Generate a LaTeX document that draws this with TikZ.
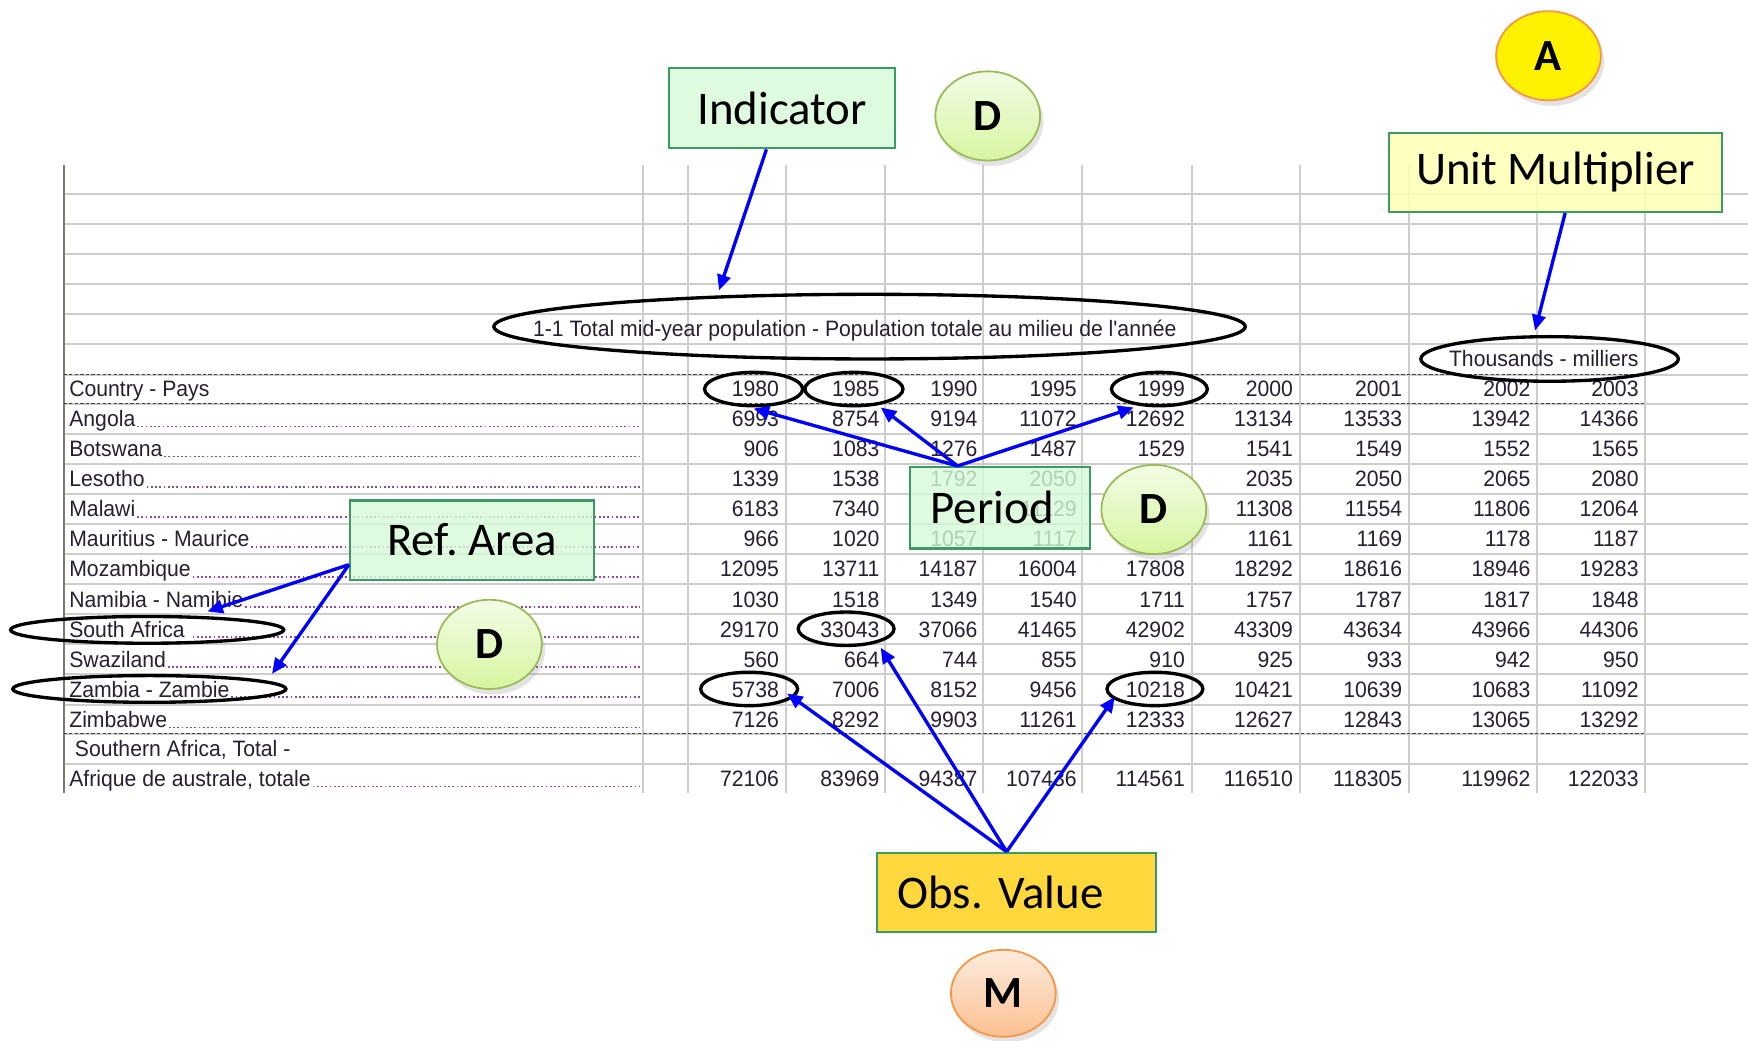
\documentclass[tikz,border=0pt]{standalone}
\usepackage{fontspec}
\setmainfont{Carlito}
\newfontfamily\sheetfont[FakeStretch=0.95]{Liberation Sans}
\usetikzlibrary{shapes.geometric,arrows.meta,shadows,calc}

\definecolor{gridgray}{RGB}{205,205,205}
\definecolor{edgegray}{RGB}{125,122,110}
\definecolor{cellink}{RGB}{38,32,50}
\definecolor{leaderc}{RGB}{150,70,165}
\definecolor{boxgreen}{RGB}{216,250,216}
\definecolor{boxedge}{RGB}{60,155,100}
\definecolor{unitfill}{RGB}{255,255,180}
\definecolor{obsfill}{RGB}{255,216,62}
\definecolor{arrowblue}{RGB}{0,0,255}
\definecolor{dtop}{RGB}{243,252,230}
\definecolor{dbot}{RGB}{214,245,160}
\definecolor{dedge}{RGB}{155,187,89}
\definecolor{aedge}{RGB}{247,150,70}
\definecolor{mtop}{RGB}{253,236,222}
\definecolor{mbot}{RGB}{251,192,145}

\tikzset{
  gridline/.style={draw=gridgray, line width=1.8pt},
  edgeline/.style={draw=edgegray, line width=1.8pt},
  dashrule/.style={draw=black!75, line width=1.2pt, dash pattern=on 3pt off 2pt},
  cell/.style={anchor=base east, inner sep=0pt, text=cellink,
    font=\sheetfont\fontsize{20}{22}\selectfont},
  rowname/.style={anchor=base west, inner sep=0pt, text=cellink,
    font=\sheetfont\fontsize{20}{22}\selectfont},
  leader/.style={draw=leaderc, line width=1.6pt, dash pattern=on 1.6pt off 2.2pt},
  ring/.style={ellipse, draw=black, line width=3pt, inner sep=0pt},
  labelbox/.style={draw=boxedge, line width=2pt, inner sep=0pt,
    font=\frenchspacing\fontsize{42}{46}\selectfont},
  greenbox/.style={labelbox, fill=boxgreen, fill opacity=0.8, text opacity=1},
  arr/.style={draw=arrowblue, line width=3pt, -{Triangle[length=14pt,width=12pt]}},
  badge/.style={ellipse, minimum width=94pt, minimum height=80pt, inner sep=0pt,
    line width=1.6pt, font=\bfseries\fontsize{40}{40}\selectfont,
    drop shadow={shadow xshift=3pt, shadow yshift=-5pt, opacity=0.22}},
  dbadge/.style={badge, draw=dedge, top color=dtop, bottom color=dbot},
}

% one data row: id, baseline y, row label, nine values
\newcommand\sheetrow[4]{%
  \node[rowname] (#1) at (62,#2) {#3};
  \draw[leader] ($(#1.base east)+(1.5,0)$) -- (#1.base east -| leadend);
  \foreach \v [count=\i] in {#4} {
    \pgfmathsetmacro\cx{{699,789,877,966,1063,1160,1258,1373,1470}[\i-1]}
    \node[cell] (#1-\i) at (\cx,#2) {\v};
  }%
}

\begin{document}
\begin{tikzpicture}[x=1pt,y=-1pt]
\useasboundingbox (0,0) rectangle (1568,933);
\fill[white] (0,0) rectangle (1568,933);

% spreadsheet grid
\foreach \gy in {174,201,228,255,282,309,336,362,389,416,443,470,497,524,551,578,605,632,658,685}
  \draw[gridline] (57,\gy) -- (1568,\gy);
\foreach \gx in {577,617,705,794,882,971,1069,1166,1264,1379,1476}
  \draw[gridline] (\gx,148) -- (\gx,711);
\draw[edgeline] (57,148) -- (57,711);
\foreach \gy in {336,362,658}
  \draw[dashrule] (57,\gy) -- (1476,\gy);

\coordinate (leadend) at (574,0);

% table heading
\node[rowname] (title) at (478,302) {1-1 Total mid-year population - Population totale au milieu de l'année};
\node[cell] (unitnote) at (1470,329) {Thousands - milliers};
\node[rowname] (hdr) at (62,356) {Country - Pays};
\foreach \yr [count=\i] in {1980,1985,1990,1995,1999,2000,2001,2002,2003} {
  \pgfmathsetmacro\cx{{699,789,877,966,1063,1160,1258,1373,1470}[\i-1]}
  \node[cell] (yr-\i) at (\cx,356) {\yr};
}

% table body
\sheetrow{ang}{382.5}{Angola}{6993,8754,9194,11072,12692,13134,13533,13942,14366}
\sheetrow{bot}{409.5}{Botswana}{906,1083,1276,1487,1529,1541,1549,1552,1565}
\sheetrow{les}{436.5}{Lesotho}{1339,1538,1792,2050,{},2035,2050,2065,2080}
\sheetrow{mal}{463.5}{Malawi}{6183,7340,{},11129,{},11308,11554,11806,12064}
\sheetrow{mau}{490.5}{Mauritius - Maurice}{966,1020,1057,1117,{},1161,1169,1178,1187}
\sheetrow{moz}{517.5}{Mozambique}{12095,13711,14187,16004,17808,18292,18616,18946,19283}
\sheetrow{nam}{544.5}{Namibia - Namibie}{1030,1518,1349,1540,1711,1757,1787,1817,1848}
\sheetrow{rsa}{571.5}{South Africa\ \ }{29170,33043,37066,41465,42902,43309,43634,43966,44306}
\sheetrow{swz}{598.5}{Swaziland}{560,664,744,855,910,925,933,942,950}
\sheetrow{zam}{625.5}{Zambia - Zambie}{5738,7006,8152,9456,10218,10421,10639,10683,11092}
\sheetrow{zim}{652.5}{Zimbabwe}{7126,8292,9903,11261,12333,12627,12843,13065,13292}
\node[rowname] (sub) at (67,679) {Southern Africa, Total -};
\sheetrow{tot}{705.5}{Afrique de australe, totale}{72106,83969,94387,107436,114561,116510,118305,119962,122033}

% highlighted cells
\node[ring, minimum width=674pt, minimum height=58pt] (titlering) at (780,293) {};
\node[ring, minimum width=231pt, minimum height=40pt] (unitring) at (1390,322) {};
\node[ring, minimum width=88pt, minimum height=30pt] (r1980) at (676,349) {};
\node[ring, minimum width=88pt, minimum height=30pt] (r1985) at (766,349) {};
\node[ring, minimum width=86pt, minimum height=30pt] (r1999) at (1040,349) {};
\node[ring, minimum width=245pt, minimum height=24pt] (rsaring) at (132,565) {};
\node[ring, minimum width=245pt, minimum height=24pt] (zamring) at (134,618) {};
\node[ring, minimum width=86pt, minimum height=30pt] (r33043) at (759,564) {};
\node[ring, minimum width=87pt, minimum height=30pt] (r5738) at (672,618) {};
\node[ring, minimum width=86pt, minimum height=30pt] (r10218) at (1036,618) {};

% concept labels
\node[greenbox, minimum width=203pt, minimum height=72pt] (ind) at (701.5,97) {Indicator};
\node[labelbox, fill=unitfill, fill opacity=0.85, text opacity=1,
      minimum width=299pt, minimum height=71pt] (unit) at (1395.5,154.5) {Unit Multiplier};
\node[greenbox, minimum width=162pt, minimum height=73pt] (period) at (897,455.5) {Period\hspace*{14pt}};
\node[greenbox, minimum width=219pt, minimum height=71pt] (refarea) at (423.5,484.5) {Ref. Area};
\node[labelbox, fill=obsfill, minimum height=71pt, text width=214pt, align=left,
      inner xsep=18pt] (obs) at (912,800.5) {Obs. Value};

% connectors
\draw[arr] ($(ind.south)+(-14,0)$) -- ($(titlering.north)+(-135,-2)$);
\draw[arr] ($(unit.south)+(8.5,0)$) -- ($(unitring.north)+(-13,-4)$);
\draw[arr] ($(period.north)+(-38,0)$) -- ($(r1980.south)+(0,1)$);
\draw[arr] ($(period.north)+(-38,0)$) -- ($(r1985.south)+(24,0)$);
\draw[arr] ($(period.north)+(-38,0)$) -- ($(r1999.south)+(-23,0)$);
\draw[arr] ($(refarea.west)+(0,22)$) -- ($(rsaring.north)+(54,-3)$);
\draw[arr] ($(refarea.west)+(0,22)$) -- ($(zamring.north)+(110,0)$);
\draw[arr] ($(obs.north)+(-9,0)$) -- ($(r5738.center)+(34,4)$);
\draw[arr] ($(obs.north)+(-9,0)$) -- ($(r33043.center)+(31,17)$);
\draw[arr] ($(obs.north)+(-9,0)$) -- ($(r10218.center)+(-36,7)$);

% attachment badges
\node[dbadge] (dind) at (886,104) {D};
\node[badge, draw=aedge, fill=yellow] (aunit) at (1389,50) {A};
\node[dbadge] (dper) at (1035,457) {D};
\node[dbadge] (dref) at (439,578) {D};
\node[badge, draw=aedge, top color=mtop, bottom color=mbot, minimum height=78pt] (mobs) at (900,891) {M};
\end{tikzpicture}
\end{document}
